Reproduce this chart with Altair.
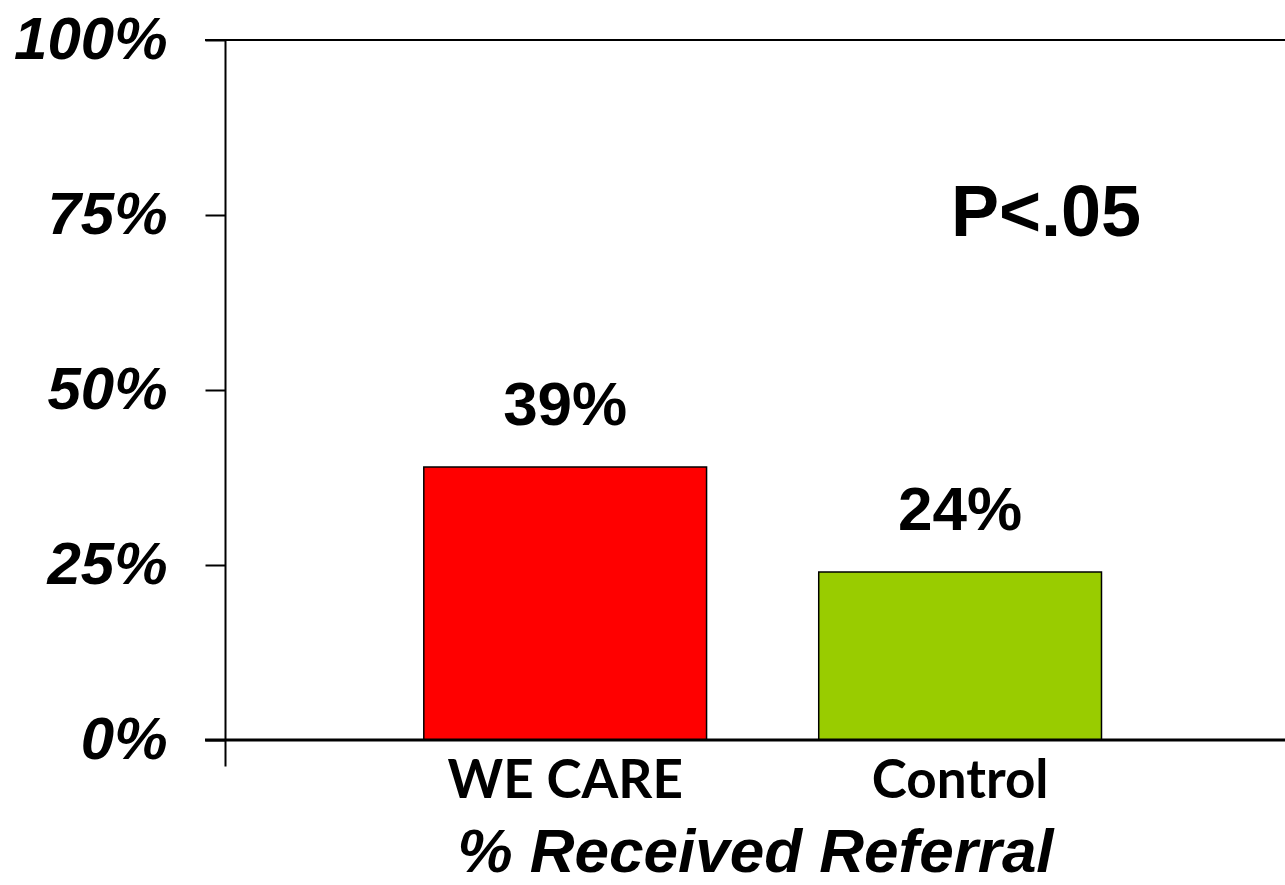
import altair as alt
import pandas as pd

# Values
groups = ["WE CARE", "Control"]
percents = [39, 24]
bar_colors = ["#FF0000", "#99CC00"]
y_ticks = [0, 25, 50, 75, 100]
frame_levels = [0, 100]
p_note = "P<.05"
x_title = "% Received Referral"

bars_df = pd.DataFrame({
    "group": groups,
    "pct": percents,
    "label": [f"{v}%" for v in percents],
    "color": bar_colors,
})
frame_df = pd.DataFrame({"level": frame_levels, "w": [3, 2]})
note_df = pd.DataFrame({"note": [p_note], "yv": [72]})

SANS = "Liberation Sans, Arial"

y_scale = alt.Scale(domain=[-3.7, 100], nice=False, zero=False)
x_scale = alt.Scale(domain=groups, paddingInner=0.284, paddingOuter=0.484, align=0.52)

x_enc = alt.X(
    "group:N",
    scale=x_scale,
    sort=groups,
    axis=alt.Axis(
        title=x_title,
        titleFont=SANS,
        titleFontSize=62,
        titleFontWeight="bold",
        titleFontStyle="italic",
        titleColor="black",
        titleBaseline="alphabetic",
        titleY=105,
        labelFont="Lato",
        labelFontSize=53,
        labelFontWeight="bold",
        labelColor="black",
        labelAngle=0,
        labelPadding=-11,
        labelLimit=0,
        domain=False,
        ticks=False,
    ),
)

bars = alt.Chart(bars_df).mark_bar(stroke="black", strokeWidth=1.5).encode(
    x=x_enc,
    y=alt.Y(
        "pct:Q",
        scale=y_scale,
        axis=alt.Axis(
            title=None,
            values=y_ticks,
            format=".0f",
            labelExpr="datum.value + '%'",
            labelFont=SANS,
            labelFontSize=60,
            labelFontWeight="bold",
            labelFontStyle="italic",
            labelColor="black",
            labelPadding=38,
            labelBaseline="middle",
            labelLimit=0,
            tickSize=20,
            tickWidth=2,
            tickColor="black",
            domainColor="black",
            domainWidth=2,
            grid=False,
        ),
    ),
    y2=alt.datum(0),
    color=alt.Color("color:N", scale=None, legend=None),
)

values = alt.Chart(bars_df).mark_text(
    font=SANS, fontSize=62, fontWeight="bold", color="black",
    baseline="alphabetic", dy=-42,
).encode(
    x=alt.X("group:N", scale=x_scale, sort=groups),
    y=alt.Y("pct:Q", scale=y_scale),
    text="label:N",
)

frame = alt.Chart(frame_df).mark_rule(color="black").encode(
    y=alt.Y("level:Q", scale=y_scale),
    x=alt.value(-20),
    x2=alt.value(1060),
    strokeWidth=alt.StrokeWidth("w:Q", scale=None, legend=None),
)

note = alt.Chart(note_df).mark_text(
    font=SANS, fontSize=72, fontWeight="bold", color="black",
    baseline="alphabetic", align="center",
).encode(
    x=alt.value(821),
    y=alt.Y("yv:Q", scale=y_scale),
    text="note:N",
)

chart = (
    alt.layer(bars, frame, values, note)
    .properties(
        width=1060,
        height=726,
        autosize=alt.AutoSizeParams(type="none"),
        padding={"left": 225, "top": 40, "right": 0, "bottom": 119},
        background="white",
    )
    .configure_view(stroke=None)
)

chart.save("out.html", embed_options={"renderer": "svg", "actions": False})
